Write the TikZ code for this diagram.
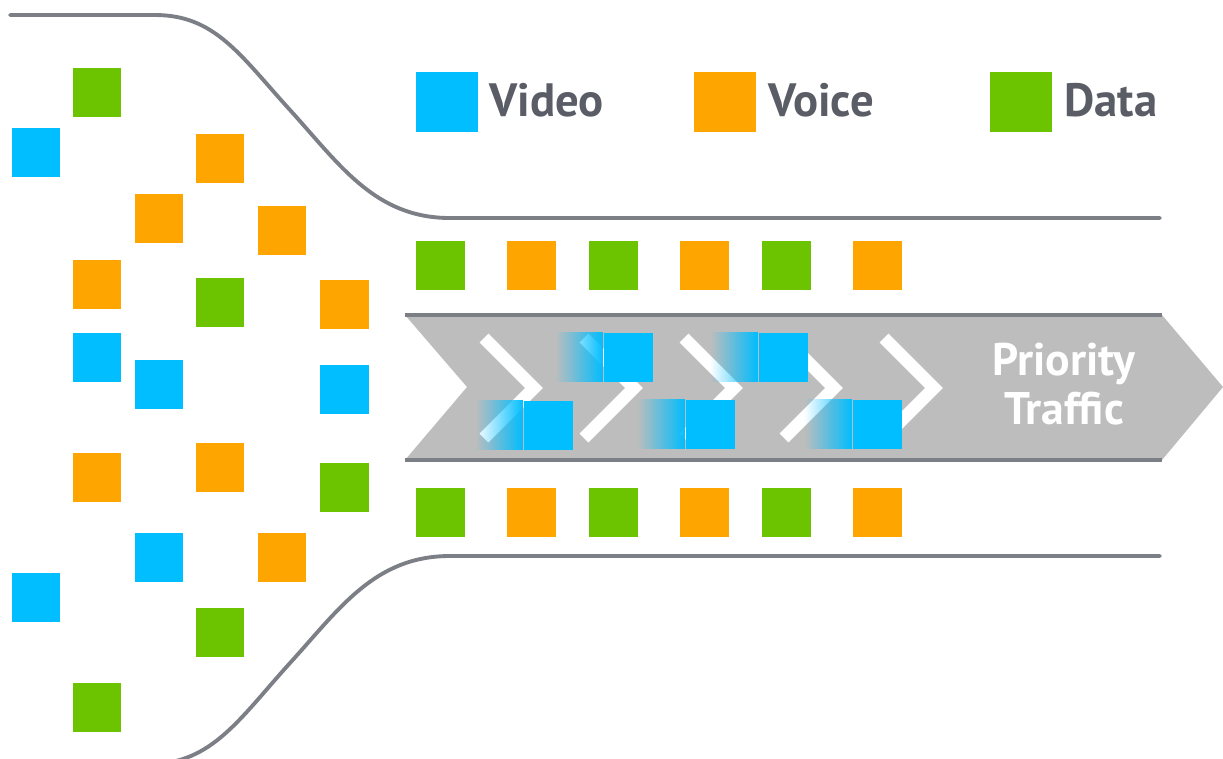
\documentclass[tikz,border=0pt]{standalone}
\usepackage{fontspec}
\setmainfont{PT Sans}
\usetikzlibrary{fadings}
\definecolor{videoblue}{RGB}{0,190,255}
\definecolor{voiceorange}{RGB}{255,165,0}
\definecolor{datagreen}{RGB}{108,195,0}
\definecolor{pipegray}{RGB}{125,127,135}
\definecolor{lanegray}{RGB}{189,189,189}
\definecolor{labelgray}{RGB}{90,93,102}
\tikzfading[name=trailfade, left color=transparent!100, right color=transparent!0]
\tikzstyle{pkt}=[rectangle, inner sep=0pt, minimum size=0.98cm]
\tikzstyle{key}=[rectangle, inner sep=0pt, minimum width=1.24cm, minimum height=1.2cm]
\tikzstyle{keytext}=[anchor=base west, inner sep=0pt, text=labelgray, font=\fontsize{26.6}{30}\selectfont\bfseries]
\tikzstyle{prio}=[align=center, inner sep=0pt, text=white, font=\fontsize{26}{27.5}\selectfont\bfseries]
\tikzstyle{pipe}=[draw=pipegray, line width=2.2pt, line cap=round]
\tikzstyle{chev}=[draw=white, line width=0.25cm]
\tikzstyle{trail}=[fill=videoblue, path fading=trailfade]
\newcommand{\pkt}{\node[pkt]}

\begin{document}
\begin{tikzpicture}[x=0.02cm, y=-0.02cm]
\useasboundingbox (0,0) rectangle (1223,758);
\draw[pipe] (10,15) -- (155,15) .. controls (215,15) and (240,55) .. (290,110)
  .. controls (340,165) and (375,218) .. (450,218) -- (1160,218);
\draw[pipe] (150,764) .. controls (212,764) and (240,718) .. (290,663)
  .. controls (340,608) and (375,556) .. (450,556) -- (1160,556);

\node[key, fill=videoblue] (kvid) at (447,102) {};
\node[key, fill=voiceorange] (kvoi) at (725,102) {};
\node[key, fill=datagreen] (kdat) at (1021,102) {};
\node[keytext] (tvid) at (489,116) {Video};
\node[keytext] (tvoi) at (768,116) {Voice};
\node[keytext] (tdat) at (1064,116) {Data};

\pkt[fill=datagreen] (g1) at (97,92) {};
\pkt[fill=videoblue] (b1) at (36,152) {};
\pkt[fill=voiceorange] (o1) at (220,158) {};
\pkt[fill=voiceorange] (o2) at (159,218) {};
\pkt[fill=voiceorange] (o3) at (282,230) {};
\pkt[fill=voiceorange] (o4) at (97,284) {};
\pkt[fill=datagreen] (g2) at (220,302) {};
\pkt[fill=voiceorange] (o5) at (344,304) {};
\pkt[fill=videoblue] (b2) at (97,357) {};
\pkt[fill=videoblue] (b3) at (159,384) {};
\pkt[fill=videoblue] (b4) at (344,389) {};
\pkt[fill=voiceorange] (o6) at (97,477) {};
\pkt[fill=voiceorange] (o7) at (220,467) {};
\pkt[fill=datagreen] (g3) at (344,487) {};
\pkt[fill=videoblue] (b5) at (159,557) {};
\pkt[fill=voiceorange] (o8) at (282,557) {};
\pkt[fill=videoblue] (b6) at (36,597) {};
\pkt[fill=datagreen] (g4) at (220,632) {};
\pkt[fill=datagreen] (g5) at (97,707) {};

\pkt[fill=datagreen] (u1) at (440,265) {};
\pkt[fill=voiceorange] (u2) at (531,265) {};
\pkt[fill=datagreen] (u3) at (613,265) {};
\pkt[fill=voiceorange] (u4) at (704,265) {};
\pkt[fill=datagreen] (u5) at (786,265) {};
\pkt[fill=voiceorange] (u6) at (877,265) {};
\pkt[fill=datagreen] (l1) at (440,512) {};
\pkt[fill=voiceorange] (l2) at (531,512) {};
\pkt[fill=datagreen] (l3) at (613,512) {};
\pkt[fill=voiceorange] (l4) at (704,512) {};
\pkt[fill=datagreen] (l5) at (786,512) {};
\pkt[fill=voiceorange] (l6) at (877,512) {};

\fill[lanegray] (405,315) -- (1162,315) -- (1223,387) -- (1162,460) -- (405,460) -- (467,387) -- cycle;
\draw[pipe, line width=2.6pt, line cap=butt] (405,315) -- (1162,315) (405,460) -- (1162,460);
\foreach \x in {484,584,...,884}
  \draw[chev] (\x,338) -- ++(50,50) -- ++(-50,50);

\pkt[fill=videoblue] (q1) at (628,357) {};
\pkt[fill=videoblue] (q2) at (783,357) {};
\pkt[fill=videoblue] (q3) at (548,425) {};
\pkt[fill=videoblue] (q4) at (710,424) {};
\pkt[fill=videoblue] (q5) at (877,424) {};
\foreach \q in {q1,q2,q3,q4,q5}
  \fill[trail] ([xshift=-0.96cm]\q.north west) rectangle (\q.south west);

\node[prio] (traffic) at (1064,384) {Priority\\Traffic};
\end{tikzpicture}
\end{document}
